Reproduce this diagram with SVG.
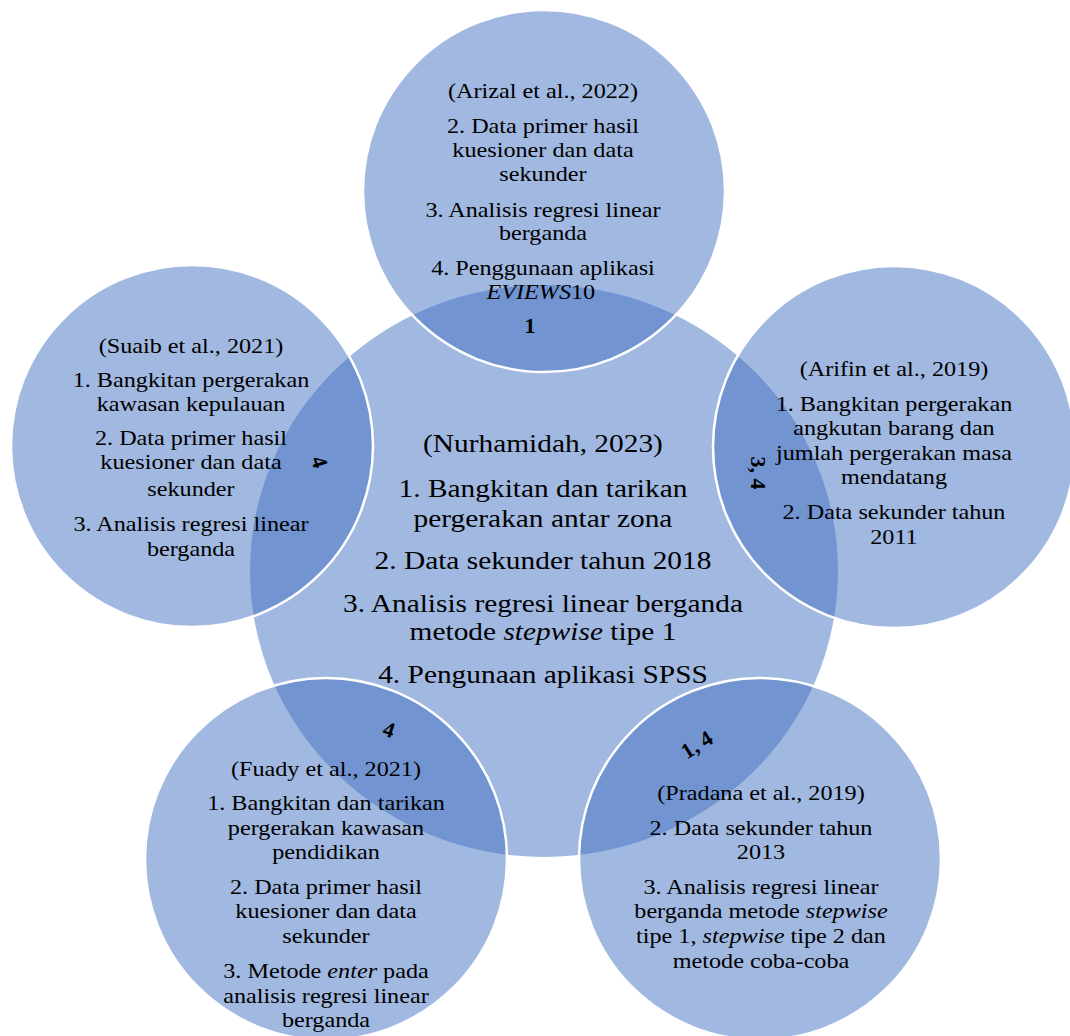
<svg xmlns="http://www.w3.org/2000/svg" width="1070" height="1036" viewBox="0 0 1070 1036" font-family="'Liberation Serif', 'Times New Roman', serif">
<style>
.c{fill:#4472c4;fill-opacity:0.5}
.o{stroke:#ffffff;stroke-width:2.5}
text{fill:#000;text-anchor:middle}
.s{font-size:22px}
.b{font-size:26px}
.l{font-size:22px;font-weight:bold}
.i{font-style:italic}
</style>
<rect width="1070" height="1036" fill="#ffffff"/>
<g id="node-center">
<ellipse class="c" cx="544" cy="571" rx="294" ry="286"/>
<g transform="matrix(1.13,0,0,1,-70.59,0)">
<text class="b" x="543" y="452">(Nurhamidah, 2023)</text>
<text class="b" x="543" y="497">1. Bangkitan dan tarikan</text>
<text class="b" x="543" y="527">pergerakan antar zona</text>
<text class="b" x="543" y="569">2. Data sekunder tahun 2018</text>
<text class="b" x="543" y="612">3. Analisis regresi linear berganda</text>
<text class="b" x="543" y="640">metode <tspan class="i">stepwise</tspan> tipe 1</text>
<text class="b" x="543" y="683">4. Pengunaan aplikasi SPSS</text>
</g>
</g>
<g id="node-top">
<circle class="c o" cx="544" cy="191" r="181"/>
<g transform="matrix(1.1,0,0,1,-54.3,0)">
<text class="s" x="543" y="98">(Arizal et al., 2022)</text>
<text class="s" x="543" y="133">2. Data primer hasil</text>
<text class="s" x="543" y="157">kuesioner dan data</text>
<text class="s" x="543" y="181">sekunder</text>
<text class="s" x="543" y="217">3. Analisis regresi linear</text>
<text class="s" x="543" y="240">berganda</text>
<text class="s" x="543" y="275">4. Penggunaan aplikasi</text>
<text class="s" x="541" y="299"><tspan class="i">EVIEWS</tspan>10</text>
</g>
</g>
<g id="node-left">
<circle class="c o" cx="192" cy="446" r="181"/>
<g transform="matrix(1.1,0,0,1,-19.1,0)">
<text class="s" x="191" y="353">(Suaib et al., 2021)</text>
<text class="s" x="191" y="387">1. Bangkitan pergerakan</text>
<text class="s" x="191" y="411">kawasan kepulauan</text>
<text class="s" x="191" y="445">2. Data primer hasil</text>
<text class="s" x="191" y="469">kuesioner dan data</text>
<text class="s" x="191" y="496">sekunder</text>
<text class="s" x="191" y="531">3. Analisis regresi linear</text>
<text class="s" x="191" y="556">berganda</text>
</g>
</g>
<g id="node-right">
<circle class="c o" cx="894" cy="447" r="181"/>
<g transform="matrix(1.1,0,0,1,-89.4,0)">
<text class="s" x="894" y="376">(Arifin et al., 2019)</text>
<text class="s" x="894" y="411">1. Bangkitan pergerakan</text>
<text class="s" x="894" y="435">angkutan barang dan</text>
<text class="s" x="894" y="460">jumlah pergerakan masa</text>
<text class="s" x="894" y="484">mendatang</text>
<text class="s" x="894" y="519">2. Data sekunder tahun</text>
<text class="s" x="894" y="544">2011</text>
</g>
</g>
<g id="node-bottom-left">
<circle class="c o" cx="326" cy="859" r="181"/>
<g transform="matrix(1.1,0,0,1,-32.6,0)">
<text class="s" x="326" y="776">(Fuady et al., 2021)</text>
<text class="s" x="326" y="810">1. Bangkitan dan tarikan</text>
<text class="s" x="326" y="835">pergerakan kawasan</text>
<text class="s" x="326" y="859">pendidikan</text>
<text class="s" x="326" y="894">2. Data primer hasil</text>
<text class="s" x="326" y="918">kuesioner dan data</text>
<text class="s" x="326" y="943">sekunder</text>
<text class="s" x="326" y="978">3. Metode <tspan class="i">enter</tspan> pada</text>
<text class="s" x="326" y="1003">analisis regresi linear</text>
<text class="s" x="326" y="1027">berganda</text>
</g>
</g>
<g id="node-bottom-right">
<circle class="c o" cx="760" cy="859" r="181"/>
<g transform="matrix(1.1,0,0,1,-76.1,0)">
<text class="s" x="761" y="800">(Pradana et al., 2019)</text>
<text class="s" x="761" y="835">2.  Data sekunder tahun</text>
<text class="s" x="761" y="859">2013</text>
<text class="s" x="761" y="894">3. Analisis regresi linear</text>
<text class="s" x="761" y="918">berganda metode <tspan class="i">stepwise</tspan></text>
<text class="s" x="761" y="943">tipe 1, <tspan class="i">stepwise</tspan> tipe 2 dan</text>
<text class="s" x="761" y="968">metode coba-coba</text>
</g>
</g>
<g id="overlap-labels">
<text class="l" x="530" y="333">1</text>
<text class="l" transform="translate(319,462) rotate(72)" x="0" y="7">4</text>
<text class="l" transform="translate(757,473) rotate(90)" x="0" y="6">3, 4</text>
<text class="l" transform="translate(389,730) rotate(18)" x="0" y="7">4</text>
<text class="l" transform="translate(697,745) rotate(-32)" x="0" y="7">1, 4</text>
</g>
</svg>
